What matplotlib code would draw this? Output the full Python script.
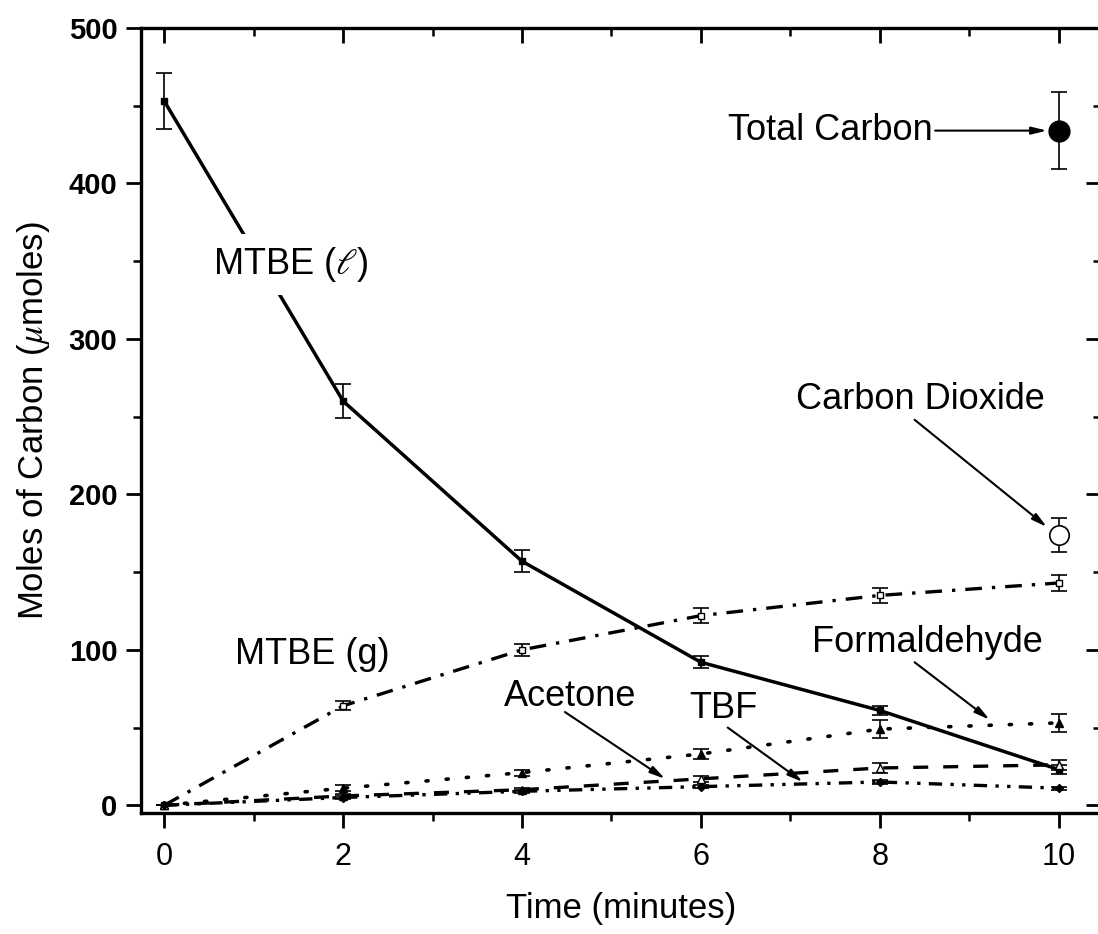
import matplotlib
matplotlib.use('Agg')
import matplotlib.pyplot as plt

plt.rcParams['font.family'] = ['Liberation Sans', 'DejaVu Sans']
plt.rcParams['mathtext.fontset'] = 'stix'

# time points (minutes)
t = [0, 2, 4, 6, 8, 10]

# micromoles of carbon
mtbe_l = [453, 260, 157, 92, 61, 23]
mtbe_l_err = [18, 11, 7, 4, 3, 3]
mtbe_g = [0, 64, 100, 122, 135, 143]
mtbe_g_err = [0, 3, 4, 5, 5, 5]
formaldehyde = [0, 11, 21, 33, 49, 53]
formaldehyde_err = [0, 2, 2, 3, 6, 6]
acetone = [0, 6, 10, 17, 24, 26]
acetone_err = [0, 1, 1, 2, 3, 3]
tbf = [0, 5, 9, 12, 15, 11]
tbf_err = [0, 1, 1, 1, 1, 1]
co2_t, co2, co2_err = [10], [174], [11]
total_t, total, total_err = [10], [434], [25]

fig = plt.figure(figsize=(10.98, 9.34), dpi=100)
ax = fig.add_axes([0.1284, 0.1295, 0.874, 0.8405])

eb = dict(ecolor='k', elinewidth=1.2, capsize=6, capthick=1.2, color='k')

ax.errorbar(t, mtbe_l, yerr=mtbe_l_err, lw=2.5, ls='-', marker='s', ms=4, **eb)
ax.errorbar(t, mtbe_g, yerr=mtbe_g_err, lw=2.4, ls=(0, (5, 3, 1, 3)),
            marker='s', ms=5, mfc='white', **eb)
ax.errorbar(t, formaldehyde, yerr=formaldehyde_err, lw=2.6, ls=(0, (0.6, 5)),
            dash_capstyle='round', marker='^', ms=6, **eb)
ax.errorbar(t, acetone, yerr=acetone_err, lw=2.4, ls=(0, (4.5, 4.5)),
            marker='^', ms=6, mfc='white', **eb)
ax.errorbar(t, tbf, yerr=tbf_err, lw=2.4, ls=(0, (4, 2.5, 1, 2.5, 1, 2.5)),
            marker='D', ms=4, **eb)
ax.errorbar(co2_t, co2, yerr=co2_err, ls='none', marker='o', ms=14,
            mfc='white', mew=1.2, **eb)
ax.errorbar(total_t, total, yerr=total_err, ls='none', marker='o', ms=15, **eb)

ax.set_xlim(-0.26, 10.47)
ax.set_ylim(-5, 500)
ax.set_xticks(range(0, 11, 2))
ax.set_xticks(range(0, 11, 1), minor=True)
ax.set_yticks(range(0, 501, 100))
ax.set_yticks(range(0, 501, 50), minor=True)
ax.tick_params(which='major', direction='out', length=11, width=2)
ax.tick_params(which='minor', direction='out', length=6, width=1.8)
ax.tick_params(axis='x', pad=10, labelsize=22)
ax.tick_params(axis='y', pad=6)
for lab in ax.get_yticklabels():
    lab.set_fontsize(21)
    lab.set_fontweight('bold')
for s in ax.spines.values():
    s.set_linewidth(2.4)

top = ax.secondary_xaxis('top')
top.set_xticks(range(0, 11, 2))
top.set_xticks(range(0, 11, 1), minor=True)
top.tick_params(which='major', direction='in', length=11, width=2, labeltop=False)
top.tick_params(which='minor', direction='in', length=6, width=1.8)
right = ax.secondary_yaxis('right')
right.set_yticks(range(0, 501, 100))
right.set_yticks(range(0, 501, 50), minor=True)
right.tick_params(which='major', direction='in', length=11, width=2, labelright=False)
right.tick_params(which='minor', direction='in', length=6, width=1.8)

ax.set_xlabel('Time (minutes)', fontsize=25, labelpad=14)
ax.set_ylabel(r'Moles of Carbon ($\mu$moles)', fontsize=25, labelpad=12)

fs = 26
arrow = dict(arrowstyle='-|>,head_length=0.9,head_width=0.22', color='k',
             lw=1.5, shrinkA=0, shrinkB=0)

ax.text(1.41, 348, r'MTBE ($\ell$)', fontsize=fs, ha='center', va='center',
        bbox=dict(facecolor='white', edgecolor='none', pad=8), zorder=5)
ax.text(1.66, 97, 'MTBE (g)', fontsize=fs, ha='center', va='center')
ax.text(8.59, 434, 'Total Carbon', fontsize=fs, ha='right', va='center')
ax.annotate('', xy=(9.87, 434), xytext=(8.62, 434), arrowprops=arrow)
ax.text(8.45, 261, 'Carbon Dioxide', fontsize=fs, ha='center', va='center')
ax.annotate('', xy=(9.87, 179), xytext=(8.39, 248), arrowprops=arrow)
ax.text(8.53, 105, 'Formaldehyde', fontsize=fs, ha='center', va='center')
ax.annotate('', xy=(9.23, 55), xytext=(8.39, 92), arrowprops=arrow)
ax.text(4.54, 70, 'Acetone', fontsize=fs, ha='center', va='center')
ax.annotate('', xy=(5.60, 17), xytext=(4.48, 60), arrowprops=arrow)
ax.text(6.25, 62, 'TBF', fontsize=fs, ha='center', va='center')
ax.annotate('', xy=(7.14, 15), xytext=(6.30, 50), arrowprops=arrow)

fig.savefig('out.png', dpi=100)
